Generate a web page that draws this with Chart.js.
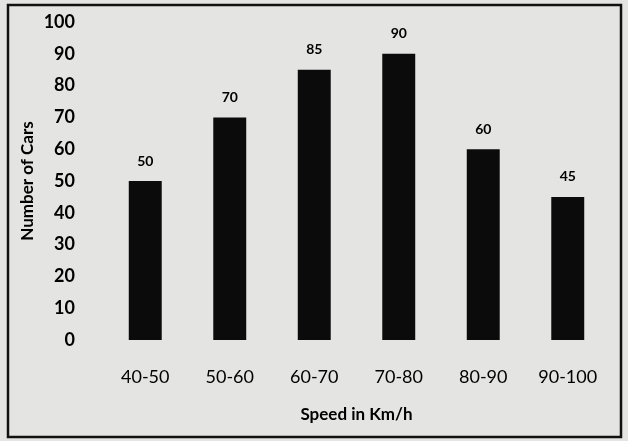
<!DOCTYPE html>
<html>
<head>
<meta charset="utf-8">
<script src="https://cdn.jsdelivr.net/npm/chart.js@4/dist/chart.umd.min.js"></script>
<style>
  body { margin: 0; background: #e4e4e2; }
  #wrap { width: 628px; height: 441px; }
</style>
</head>
<body>
<div id="wrap"><canvas id="chart" width="628" height="441"></canvas></div>
<script>
const speeds = ['40-50', '50-60', '60-70', '70-80', '80-90', '90-100'];
const cars = [50, 70, 85, 90, 60, 45];
const yTicks = [0, 10, 20, 30, 40, 50, 60, 70, 80, 90, 100];

const paper = {
  id: 'paper',
  beforeDraw(chart) {
    const { ctx, width, height } = chart;
    ctx.save();
    ctx.fillStyle = '#e4e4e2';
    ctx.fillRect(0, 0, width, height);
    ctx.strokeStyle = '#111';
    ctx.lineWidth = 2.5;
    ctx.strokeRect(8, 5, 613, 432);
    ctx.restore();
  }
};

const barLabels = {
  id: 'barLabels',
  afterDatasetsDraw(chart) {
    const { ctx } = chart;
    const meta = chart.getDatasetMeta(0);
    ctx.save();
    ctx.font = 'bold 14px Lato';
    ctx.fillStyle = '#000';
    ctx.textAlign = 'center';
    ctx.textBaseline = 'middle';
    meta.data.forEach((bar, i) => {
      ctx.fillText(String(cars[i]), bar.x, bar.y - 20);
    });
    ctx.restore();
  }
};

new Chart(document.getElementById('chart'), {
  type: 'bar',
  data: {
    labels: speeds,
    datasets: [{
      data: cars,
      backgroundColor: '#0b0b0b',
      barPercentage: 0.39,
      categoryPercentage: 1
    }]
  },
  options: {
    responsive: false,
    animation: false,
    layout: { padding: { left: 8, right: 18, top: 22, bottom: 8 } },
    plugins: { legend: { display: false }, tooltip: { enabled: false } },
    scales: {
      x: {
        grid: { display: false },
        border: { display: false },
        ticks: { color: '#000', font: { family: 'Lato', size: 18 }, padding: 18 },
        title: {
          display: true,
          text: 'Speed in Km/h',
          color: '#000',
          font: { family: 'Lato', size: 17, weight: 'bold' },
          padding: { top: 0, bottom: 8 }
        },
        afterFit(scale) { scale.height = 93; }
      },
      y: {
        min: 0,
        max: 100,
        afterBuildTicks(scale) { scale.ticks = yTicks.map((v) => ({ value: v })); },
        grid: { display: false },
        border: { display: false },
        ticks: { color: '#000', font: { family: 'Lato', size: 18, weight: 'bold' }, padding: 20 },
        title: {
          display: true,
          text: 'Number of Cars',
          color: '#000',
          font: { family: 'Lato', size: 17, weight: 'bold' },
          padding: { top: 9, bottom: 0 }
        },
        afterFit(scale) {
          scale.width = 95;
          scale.paddingTop = 0;
          scale.paddingBottom = 0;
        }
      }
    }
  },
  plugins: [paper, barLabels]
});
</script>
</body>
</html>
